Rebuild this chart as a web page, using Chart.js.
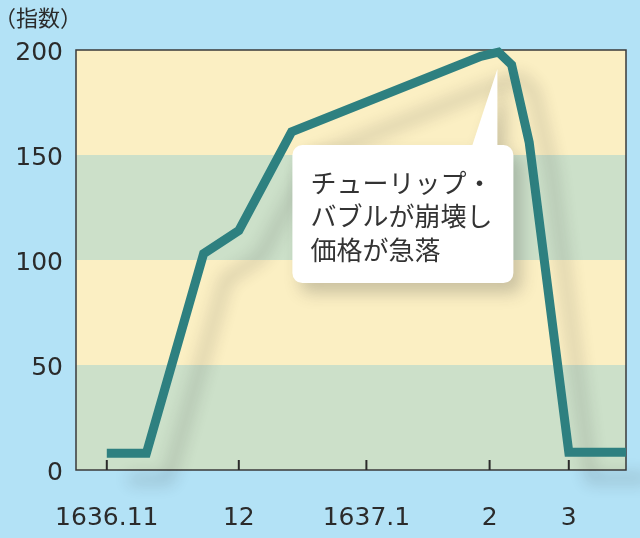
<!DOCTYPE html>
<html>
<head>
<meta charset="utf-8">
<script src="https://cdn.jsdelivr.net/npm/chart.js@4.4.0/dist/chart.umd.min.js"></script>
<style>
  html, body { margin: 0; padding: 0; background: #b3e2f6; }
  #wrap { width: 640px; height: 538px; }
</style>
</head>
<body>
<div id="wrap"><canvas id="grafico"></canvas></div>
<script>
// --- dados ---
// eixo x em "dias" aproximados a partir de 1636.11
const diasX = [0, 9, 22, 30, 42, 85, 89, 92, 96, 105, 118];
const indice = [8, 8, 103, 114, 161, 197, 199, 193, 156, 8.5, 8.5];

const posMeses = [0, 30, 59, 87, 105];
const rotulosMeses = ['1636.11', '12', '1637.1', '2', '3'];

const faixas = [[0, 50], [50, 100], [100, 150], [150, 200]];
const textoBalao = ['チューリップ・', 'バブルが崩壊し', '価格が急落'];

const fonteBase = '"Noto Sans CJK JP", "Noto Sans", sans-serif';
const fonteNum = '"DejaVu Sans", "Noto Sans", sans-serif';
const corTexto = '#2b2b2b';

// faixas de fundo + moldura
const pluginFundo = {
    id: 'fundo',
    beforeDatasetsDraw(chart) {
        const { ctx, chartArea: a, scales: { y } } = chart;
        ctx.save();
        faixas.forEach((f, i) => {
            const y0 = y.getPixelForValue(f[0]);
            const y1 = y.getPixelForValue(f[1]);
            ctx.fillStyle = i % 2 === 0 ? '#cce0c9' : '#fbefc3';
            ctx.fillRect(a.left, y1, a.right - a.left, y0 - y1);
        });
        ctx.strokeStyle = '#3a3a3a';
        ctx.lineWidth = 1.5;
        ctx.strokeRect(a.left, a.top, a.right - a.left, a.bottom - a.top);
        ctx.restore();
    }
};

// sombra da linha
const pluginSombra = {
    id: 'sombra',
    beforeDatasetDraw(chart) {
        const ctx = chart.ctx;
        ctx.save();
        ctx.shadowColor = 'rgba(40, 40, 40, 0.2)';
        ctx.shadowBlur = 16;
        ctx.shadowOffsetX = 22;
        ctx.shadowOffsetY = 26;
    },
    afterDatasetDraw(chart) {
        chart.ctx.restore();
    }
};

// marcas do eixo x (para dentro), rótulo do eixo y e balão
const pluginExtras = {
    id: 'extras',
    afterDatasetsDraw(chart) {
        const { ctx, chartArea: a, scales: { x, y } } = chart;
        ctx.save();

        // marcas
        ctx.strokeStyle = '#2b2b2b';
        ctx.lineWidth = 2;
        posMeses.forEach(v => {
            const px = x.getPixelForValue(v);
            ctx.beginPath();
            ctx.moveTo(px, a.bottom);
            ctx.lineTo(px, a.bottom - 10);
            ctx.stroke();
        });

        // unidade
        ctx.fillStyle = corTexto;
        ctx.font = '22px ' + fonteBase;
        ctx.textAlign = 'left';
        ctx.textBaseline = 'middle';
        ctx.fillText('（指数）', -6, 18);

        // balão apontando para o pico
        const iPico = indice.indexOf(Math.max(...indice));
        const tipX = x.getPixelForValue(diasX[iPico]) - 1;
        const tipY = y.getPixelForValue(indice[iPico]) + 17;
        const bx = tipX - 205, by = tipY + 76, bw = 221, bh = 138, r = 10;

        ctx.save();
        ctx.shadowColor = 'rgba(60, 60, 60, 0.25)';
        ctx.shadowBlur = 16;
        ctx.shadowOffsetX = 8;
        ctx.shadowOffsetY = 10;
        ctx.fillStyle = '#ffffff';
        ctx.beginPath();
        ctx.moveTo(bx + r, by);
        ctx.lineTo(tipX - 25, by);
        ctx.lineTo(tipX, tipY);
        ctx.lineTo(tipX, by);
        ctx.lineTo(bx + bw - r, by);
        ctx.arcTo(bx + bw, by, bx + bw, by + r, r);
        ctx.lineTo(bx + bw, by + bh - r);
        ctx.arcTo(bx + bw, by + bh, bx + bw - r, by + bh, r);
        ctx.lineTo(bx + r, by + bh);
        ctx.arcTo(bx, by + bh, bx, by + bh - r, r);
        ctx.lineTo(bx, by + r);
        ctx.arcTo(bx, by, bx + r, by, r);
        ctx.closePath();
        ctx.fill();
        ctx.restore();

        ctx.fillStyle = '#333333';
        ctx.font = '26px ' + fonteBase;
        ctx.textAlign = 'left';
        ctx.textBaseline = 'middle';
        textoBalao.forEach((t, i) => {
            ctx.fillText(t, bx + 18, by + 38 + i * 33.5);
        });

        ctx.restore();
    }
};

new Chart(document.getElementById('grafico'), {
    type: 'line',
    data: {
        datasets: [{
            data: diasX.map((d, i) => ({ x: d, y: indice[i] })),
            borderColor: '#2e8080',
            borderWidth: 9,
            borderCapStyle: 'butt',
            borderJoinStyle: 'miter',
            pointRadius: 0,
            tension: 0,
            clip: false
        }]
    },
    options: {
        responsive: true,
        maintainAspectRatio: false,
        animation: false,
        events: [],
        layout: { padding: { top: 50, right: 14, left: 0, bottom: 0 } },
        plugins: { legend: { display: false }, tooltip: { enabled: false } },
        scales: {
            x: {
                type: 'linear',
                min: -7,
                max: 118,
                grid: { display: false, drawTicks: false },
                border: { display: false },
                afterBuildTicks: scale => {
                    scale.ticks = posMeses.map(v => ({ value: v }));
                },
                afterFit: scale => { scale.height = 68; },
                ticks: {
                    autoSkip: false,
                    maxRotation: 0,
                    padding: 33,
                    color: corTexto,
                    font: { family: fonteNum, size: 25 },
                    callback: (v, i) => rotulosMeses[i]
                }
            },
            y: {
                min: 0,
                max: 200,
                grid: { display: false, drawTicks: false },
                border: { display: false },
                afterFit: scale => { scale.width = 76; },
                ticks: {
                    stepSize: 50,
                    padding: 13,
                    labelOffset: 3,
                    color: corTexto,
                    font: { family: fonteNum, size: 25 }
                }
            }
        }
    },
    plugins: [pluginFundo, pluginSombra, pluginExtras]
});
</script>
</body>
</html>
